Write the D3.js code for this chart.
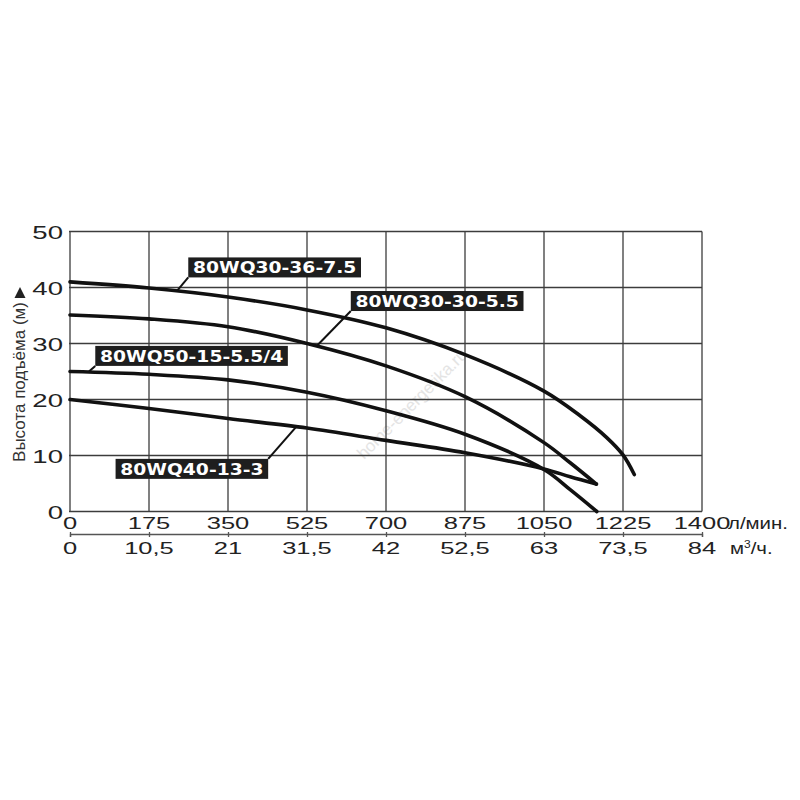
<!DOCTYPE html>
<html>
<head>
<meta charset="utf-8">
<script src="https://cdn.jsdelivr.net/npm/d3@7"></script>
<style>
	body { margin: 0; background: #fff; }
	svg { display: block; }
</style>
</head>
<body>
<div id="chart-area"></div>
<script>

// Flow values (l/min) and head values (m)
let flowA = [0, 175, 350, 525, 700, 875, 1050, 1130, 1189, 1225, 1250];
let headA = [41.0, 39.9, 38.3, 36.0, 32.8, 28.0, 21.5, 17.1, 13.2, 10.1, 6.6];

let flowB = [0, 175, 350, 525, 700, 875, 1050, 1108, 1166];
let headB = [35.1, 34.4, 33.0, 30.0, 26.0, 20.5, 12.3, 8.7, 4.9];

let flowC = [0, 175, 350, 525, 700, 875, 1050, 1108, 1167];
let headC = [25.0, 24.5, 23.5, 21.3, 18.0, 13.8, 7.5, 3.9, 0];

let flowD = [0, 175, 350, 525, 700, 875, 1050, 1108, 1166];
let headD = [20.0, 18.4, 16.6, 14.9, 12.7, 10.5, 7.6, 6.2, 4.9];

// Model names, leader start (on curve) and box corner, in data units
let modelNames = ["80WQ30-36-7.5", "80WQ30-30-5.5", "80WQ50-15-5.5/4", "80WQ40-13-3"];
let leaderFrom = [[237, 39.4], [547, 29.6], [42, 25.0], [501, 15.1]];
let boxCorner = [[262, 41.8], [622, 35.8], [56, 26.0], [439, 9.4]];
let boxSide = ["bottom-left", "bottom-left", "bottom-left", "top-right"];

// Tick labels
let flowTicks = [0, 175, 350, 525, 700, 875, 1050, 1225, 1400];
let volumeTicks = ["0", "10,5", "21", "31,5", "42", "52,5", "63", "73,5", "84"];
let headTicks = [0, 10, 20, 30, 40, 50];

let curves = [
	{flow: flowA, head: headA},
	{flow: flowB, head: headB},
	{flow: flowC, head: headC},
	{flow: flowD, head: headD}
];

let svg = d3.select("#chart-area").append("svg")
	.attr("width", 800)
	.attr("height", 800);

// Scales
let x = d3.scaleLinear().domain([0, 1400]).range([70, 702]);
let y = d3.scaleLinear().domain([0, 50]).range([511.5, 231.5]);
let x2 = d3.scaleLinear().domain([0, 84]).range([70, 702]);

// the picture text is stretched sideways, so scale it the same way
function stretchedText(parent, px, py, txt, size, sx, anchor) {
	return parent.append("g")
		.attr("transform", "translate(" + px + "," + py + ") scale(" + sx + ",1)")
		.append("text")
		.attr("text-anchor", anchor)
		.attr("font-family", "Liberation Sans, Arial, sans-serif")
		.attr("font-size", size)
		.attr("fill", "#222")
		.text(txt);
}

// watermark
svg.append("text")
	.attr("transform", "translate(416,408) rotate(-45)")
	.attr("text-anchor", "middle")
	.attr("font-family", "Liberation Sans, Arial, sans-serif")
	.attr("font-size", 17)
	.attr("fill", "#e4e4e4")
	.text("home-energetika.ru");

// Grid
let grid = svg.append("g").attr("class", "grid");

grid.selectAll(".vline")
	.data(flowTicks)
	.enter()
	.append("line")
	.attr("x1", d => x(d))
	.attr("x2", d => x(d))
	.attr("y1", y(0))
	.attr("y2", y(50))
	.attr("stroke", "#3c3c3c")
	.attr("stroke-width", 1.3);

grid.selectAll(".hline")
	.data(headTicks)
	.enter()
	.append("line")
	.attr("x1", x(0) - 1)
	.attr("x2", x(1400))
	.attr("y1", d => y(d))
	.attr("y2", d => y(d))
	.attr("stroke", "#3c3c3c")
	.attr("stroke-width", 1.3);

// Y tick labels
headTicks.forEach(d => {
	stretchedText(svg, 63, y(d) + 7, d, 19, 1.45, "end");
});

// X tick labels, l/min
flowTicks.forEach(d => {
	stretchedText(svg, x(d), 529, d, 17, 1.5, "middle");
});
stretchedText(svg, x(1400) + 26, 529, "л/мин.", 17, 1.2, "start");

// second axis, m3/h
let axis2 = d3.axisBottom(x2)
	.tickValues(volumeTicks.map(t => +t.replace(",", ".")))
	.tickSize(3)
	.tickFormat("");

svg.append("g")
	.attr("class", "x2 axis")
	.attr("transform", "translate(0,532)")
	.call(axis2)
	.call(g => g.select(".domain").attr("transform", "translate(0,2)").attr("stroke", "#555").attr("stroke-width", 1.3))
	.call(g => g.selectAll(".tick line").attr("y1", 0).attr("y2", 5).attr("stroke", "#555").attr("stroke-width", 1.3));

volumeTicks.forEach(t => {
	stretchedText(svg, x2(+t.replace(",", ".")), 554, t, 17, 1.5, "middle");
});

let unit = stretchedText(svg, x(1400) + 28, 554, "", 17, 1.2, "start");
unit.append("tspan").text("м");
unit.append("tspan").attr("dy", -6).attr("font-size", 10).text("3");
unit.append("tspan").attr("dy", 6).text("/ч.");

// Y axis title
svg.append("text")
	.attr("transform", "translate(25,382) rotate(-90)")
	.attr("text-anchor", "middle")
	.attr("font-family", "Liberation Sans, Arial, sans-serif")
	.attr("font-size", 17)
	.attr("fill", "#333")
	.text("Высота подъёма (м)");

svg.append("path")
	.attr("d", "M20,287 L25.5,298 L14.5,298 Z")
	.attr("fill", "#222");

// Curves
let line = d3.line()
	.x(d => x(d[0]))
	.y(d => y(d[1]))
	.curve(d3.curveCatmullRom.alpha(0.5));

svg.selectAll(".curve")
	.data(curves)
	.enter()
	.append("path")
	.attr("class", "curve")
	.attr("d", c => line(c.flow.map((f, i) => [f, c.head[i]])))
	.attr("fill", "none")
	.attr("stroke", "#111")
	.attr("stroke-width", 3.6)
	.attr("stroke-linecap", "round");

// Model labels with leader lines
modelNames.forEach((name, i) => {

	svg.append("line")
		.attr("x1", x(leaderFrom[i][0]))
		.attr("y1", y(leaderFrom[i][1]))
		.attr("x2", x(boxCorner[i][0]))
		.attr("y2", y(boxCorner[i][1]))
		.attr("stroke", "#111")
		.attr("stroke-width", 2);

	let g = svg.append("g");
	let inner = g.append("g").attr("transform", "scale(1.17,1)");
	let rect = inner.append("rect").attr("fill", "#1e1e1e");
	let label = inner.append("text")
		.attr("font-family", "DejaVu Sans, Verdana, sans-serif")
		.attr("font-weight", "bold")
		.attr("font-size", 16)
		.attr("fill", "#fff")
		.text(name);

	let w = label.node().getComputedTextLength();
	let h = 20;
	rect.attr("x", -4).attr("y", -h + 4).attr("width", w + 8).attr("height", h);

	let bx = x(boxCorner[i][0]);
	let by = y(boxCorner[i][1]);
	if (boxSide[i] === "bottom-left") {
		g.attr("transform", "translate(" + (bx + 4 * 1.17) + "," + (by - 4) + ")");
	} else {
		g.attr("transform", "translate(" + (bx - (w + 4) * 1.17) + "," + (by + h - 4) + ")");
	}
});

</script>
</body>
</html>
